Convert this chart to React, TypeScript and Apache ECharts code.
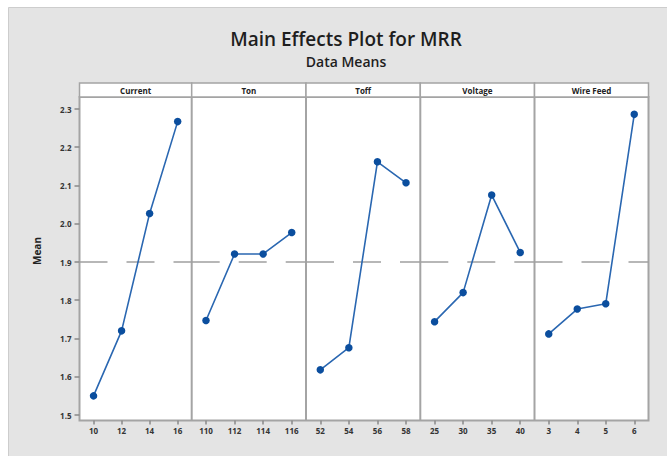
import React, { useEffect, useRef } from "react";
import * as echarts from "echarts";

// ---- data ----
const factorNames = ["Current", "Ton", "Toff", "Voltage", "Wire Feed"];
const currentLevels = ["10", "12", "14", "16"];
const tonLevels = ["110", "112", "114", "116"];
const toffLevels = ["52", "54", "56", "58"];
const voltageLevels = ["25", "30", "35", "40"];
const wireFeedLevels = ["3", "4", "5", "6"];

const currentMeans = [1.55, 1.72, 2.027, 2.267];
const tonMeans = [1.747, 1.921, 1.921, 1.977];
const toffMeans = [1.618, 1.676, 2.162, 2.107];
const voltageMeans = [1.744, 1.82, 2.075, 1.925];
const wireFeedMeans = [1.712, 1.777, 1.791, 2.286];

const overallMean = 1.895;
const yMin = 1.5;
const yMax = 2.3;
const yStep = 0.1;

const levelSets = [currentLevels, tonLevels, toffLevels, voltageLevels, wireFeedLevels];
const meanSets = [currentMeans, tonMeans, toffMeans, voltageMeans, wireFeedMeans];

// ---- layout ----
const W = 667;
const H = 456;
const EDGES = [79.5, 191.7, 306, 420.3, 534.5, 648.5];
const PANEL_TOP = 97;
const PANEL_BOTTOM = 420.5;
const HEAD_TOP = 83;
const GRID_TOP = 109;
const GRID_BOTTOM = 415;
const FONT = "'Open Sans', 'Noto Sans', sans-serif";
const BORDER = "#a4a4a4";

export default function App() {
  const ref = useRef<HTMLDivElement>(null);

  useEffect(() => {
    if (!ref.current) return;
    const chart = echarts.init(ref.current, undefined, { renderer: "svg" });

    const grids: any[] = [];
    const xAxes: any[] = [];
    const yAxes: any[] = [];
    const series: any[] = [];
    const graphics: any[] = [];

    graphics.push({
      type: "rect",
      z: 0,
      shape: { x: 8.5, y: 7.5, width: 700, height: 500 },
      style: { fill: "#e4e4e4", stroke: "#cdcdcd", lineWidth: 1 },
    });
    graphics.push({
      type: "rect",
      z: 0,
      shape: { x: EDGES[0], y: PANEL_TOP, width: EDGES[5] - EDGES[0], height: PANEL_BOTTOM - PANEL_TOP },
      style: { fill: "#ffffff", stroke: BORDER, lineWidth: 2 },
    });

    for (let i = 0; i < 5; i++) {
      const left = EDGES[i];
      const width = EDGES[i + 1] - EDGES[i];
      grids.push({ left, width, top: GRID_TOP, height: GRID_BOTTOM - GRID_TOP, containLabel: false });
      xAxes.push({
        type: "category",
        gridIndex: i,
        data: levelSets[i],
        boundaryGap: true,
        offset: PANEL_BOTTOM - GRID_BOTTOM,
        axisLine: { show: false },
        axisTick: { show: true, alignWithLabel: true, length: 4, lineStyle: { color: "#8a8a8a", width: 1.5 } },
        axisLabel: { fontSize: 8, fontWeight: "bold", color: "#333", fontFamily: FONT, margin: 6 },
        splitLine: { show: false },
      });
      yAxes.push({
        type: "value",
        gridIndex: i,
        min: yMin,
        max: yMax,
        interval: yStep,
        axisLine: { show: false },
        axisTick: { show: i === 0, length: 5, lineStyle: { color: "#8a8a8a", width: 1.5 } },
        axisLabel: {
          show: i === 0,
          fontSize: 8,
          fontWeight: "bold",
          color: "#333",
          fontFamily: FONT,
          margin: 8,
          formatter: (v: number) => v.toFixed(1),
        },
        splitLine: { show: false },
      });
      series.push({
        type: "line",
        xAxisIndex: i,
        yAxisIndex: i,
        data: meanSets[i],
        symbol: "circle",
        symbolSize: 7.5,
        lineStyle: { color: "#2a67b1", width: 1.6 },
        itemStyle: { color: "#0b4e9e" },
        z: 5,
        markLine: {
          silent: true,
          symbol: ["none", "none"],
          label: { show: false },
          lineStyle: { color: "#a0a0a0", width: 1.6, type: [28, 19] },
          data: [{ yAxis: overallMean }],
        },
      });

      if (i > 0) {
        graphics.push({
          type: "line",
          z: 1,
          shape: { x1: left, y1: PANEL_TOP, x2: left, y2: PANEL_BOTTOM },
          style: { stroke: BORDER, lineWidth: 2 },
        });
      }
      graphics.push({
        type: "rect",
        z: 1,
        shape: { x: left, y: HEAD_TOP, width, height: PANEL_TOP - HEAD_TOP },
        style: { fill: "#ffffff", stroke: BORDER, lineWidth: 1.5 },
      });
      graphics.push({
        type: "text",
        z: 2,
        x: left + width / 2,
        y: (HEAD_TOP + PANEL_TOP) / 2,
        style: {
          text: factorNames[i],
          fill: "#222",
          font: `bold 8px ${FONT}`,
          textAlign: "center",
          textVerticalAlign: "middle",
        },
      });
    }

    graphics.push({
      type: "text",
      z: 2,
      x: 346,
      y: 39,
      style: {
        text: "Main Effects Plot for MRR",
        fill: "#1e1e1e",
        font: `600 19px ${FONT}`,
        textAlign: "center",
        textVerticalAlign: "middle",
      },
    });
    graphics.push({
      type: "text",
      z: 2,
      x: 346,
      y: 61,
      style: {
        text: "Data Means",
        fill: "#1e1e1e",
        font: `600 14px ${FONT}`,
        textAlign: "center",
        textVerticalAlign: "middle",
      },
    });
    graphics.push({
      type: "text",
      z: 2,
      x: 37,
      y: 251,
      rotation: Math.PI / 2,
      style: {
        text: "Mean",
        fill: "#222",
        font: `bold 10px ${FONT}`,
        textAlign: "center",
        textVerticalAlign: "middle",
      },
    });

    chart.setOption({
      animation: false,
      backgroundColor: "#ffffff",
      grid: grids,
      xAxis: xAxes,
      yAxis: yAxes,
      series,
      graphic: { elements: graphics },
    });

    return () => chart.dispose();
  }, []);

  return (
    <div
      ref={ref}
      style={{ position: "fixed", left: 0, top: 0, width: W, height: H }}
    />
  );
}
